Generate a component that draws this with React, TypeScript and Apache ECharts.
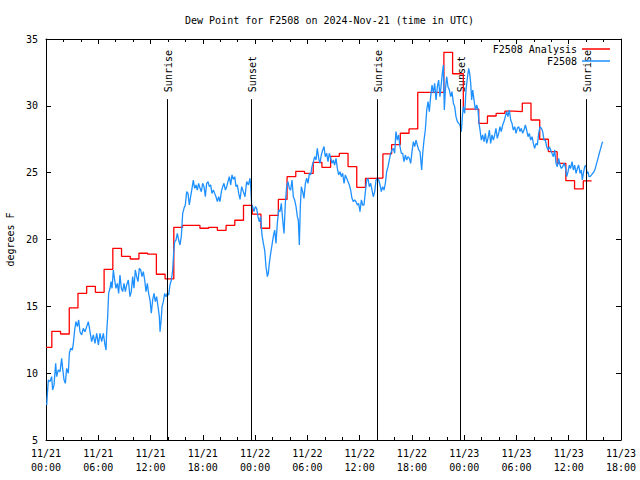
import React, { useEffect, useRef } from 'react';
import * as echarts from 'echarts';

const TITLE = 'Dew Point for F2508 on 2024-Nov-21 (time in UTC)';
const Y_NAME = 'degrees F';
const FONT = 'DejaVu Sans Mono';

// x axis in hours since 2024-11-21 00:00 UTC
const xTickLabels = [
  '11/21\n00:00', '11/21\n06:00', '11/21\n12:00', '11/21\n18:00',
  '11/22\n00:00', '11/22\n06:00', '11/22\n12:00', '11/22\n18:00',
  '11/23\n00:00', '11/23\n06:00', '11/23\n12:00', '11/23\n18:00',
];

const seriesNames = ['F2508 Analysis', 'F2508'];
const seriesColors = ['#ff0000', '#1e90ff'];

const analysisHours = [
  0.0, 0.67, 1.67, 2.67, 3.67, 4.67, 5.67, 6.67, 7.67, 8.67, 9.67, 10.67, 11.67,
  12.67, 13.67, 14.67, 15.67, 16.67, 17.67, 18.67, 19.67, 20.67, 21.67, 22.67,
  23.67, 24.67, 25.67, 26.67, 27.67, 28.67, 29.67, 30.67, 31.67, 32.67, 33.67,
  34.67, 35.67, 36.67, 37.67, 38.67, 39.67, 40.67, 41.67, 42.67, 43.67, 44.67,
  45.67, 46.67, 47.9, 48.67, 49.67, 50.67, 51.67, 52.67, 53.67, 54.67, 55.67,
  56.67, 57.67, 58.67, 59.67, 60.67, 61.67, 62.63,
];
const analysisDew = [
  11.93, 13.13, 12.93, 14.88, 15.97, 16.5, 16.05, 17.77, 19.34, 18.74, 18.54, 18.97, 18.9,
  17.4, 17.05, 20.91, 21.06, 21.06, 20.84, 20.91, 20.69, 21.06, 21.44, 22.56,
  21.9, 20.84, 21.81, 23.0, 24.7, 25.1, 24.95, 25.77, 25.4, 26.22, 26.45,
  25.45, 23.9, 24.58, 24.6, 26.4, 27.1, 27.95, 28.27, 31.0, 31.0, 31.0,
  34.0, 32.4, 29.76, 29.76, 28.69, 29.24, 29.44, 29.6, 29.57, 30.2, 28.94,
  27.5, 26.57, 25.7, 24.4, 23.78, 24.38, 24.38,
];

const obsHours = [
  0.08, 0.16, 0.27, 0.46, 0.65, 0.76, 0.92, 1.11, 1.22, 1.41, 1.61, 1.8, 1.91, 2.07, 2.22, 2.37,
  2.56, 2.68, 2.83, 3.02, 3.14, 3.29, 3.44, 3.6, 3.75, 3.9, 4.09, 4.28, 4.48, 4.67, 4.86, 5.05,
  5.24, 5.43, 5.62, 5.82, 6.01, 6.2, 6.39, 6.58, 6.77, 6.89, 6.96, 7.08, 7.19, 7.35, 7.46, 7.58,
  7.73, 7.88, 8.03, 8.19, 8.34, 8.49, 8.65, 8.8, 8.95, 9.11, 9.26, 9.45, 9.64, 9.79, 9.95, 10.1,
  10.25, 10.41, 10.56, 10.71, 10.87, 11.02, 11.17, 11.33, 11.48, 11.63, 11.78, 11.94, 12.09, 12.24,
  12.4, 12.55, 12.7, 12.86, 13.01, 13.09, 13.2, 13.32, 13.47, 13.62, 13.77, 13.93, 14.08, 14.23,
  14.39, 14.54, 14.65, 14.77, 14.92, 15.07, 15.23, 15.38, 15.53, 15.69, 15.84, 15.99, 16.15, 16.3,
  16.45, 16.6, 16.76, 16.91, 17.06, 17.22, 17.37, 17.52, 17.68, 17.83, 17.98, 18.14, 18.29, 18.44,
  18.6, 18.75, 18.9, 19.05, 19.21, 19.36, 19.51, 19.67, 19.82, 19.97, 20.13, 20.28, 20.43, 20.59,
  20.74, 20.89, 21.04, 21.2, 21.35, 21.5, 21.66, 21.81, 21.96, 22.12, 22.27, 22.46, 22.65, 22.84,
  23.03, 23.23, 23.42, 23.53, 23.61, 23.72, 23.87, 24.03, 24.18, 24.33, 24.49, 24.64, 24.79, 24.95,
  25.1, 25.25, 25.41, 25.52, 25.63, 25.79, 25.94, 26.09, 26.25, 26.4, 26.55, 26.71, 26.86, 27.01,
  27.17, 27.32, 27.47, 27.62, 27.78, 27.93, 28.08, 28.24, 28.39, 28.54, 28.7, 28.85, 28.96, 29.08,
  29.19, 29.31, 29.46, 29.61, 29.77, 29.92, 30.07, 30.23, 30.38, 30.53, 30.69, 30.84, 30.99, 31.14,
  31.3, 31.45, 31.6, 31.76, 31.91, 32.06, 32.22, 32.37, 32.52, 32.68, 32.83, 32.98, 33.13, 33.29,
  33.44, 33.59, 33.75, 33.9, 34.05, 34.21, 34.36, 34.51, 34.66, 34.82, 34.97, 35.12, 35.28, 35.43,
  35.58, 35.74, 35.89, 36.04, 36.2, 36.35, 36.5, 36.66, 36.81, 36.96, 37.11, 37.27, 37.42, 37.57,
  37.73, 37.88, 38.03, 38.19, 38.34, 38.49, 38.64, 38.8, 38.95, 39.1, 39.26, 39.41, 39.56, 39.72,
  39.87, 40.02, 40.17, 40.33, 40.48, 40.63, 40.79, 40.94, 41.09, 41.25, 41.4, 41.55, 41.71, 41.86,
  42.01, 42.17, 42.32, 42.47, 42.62, 42.78, 42.93, 43.12, 43.24, 43.39, 43.54, 43.7, 43.85, 44.0,
  44.15, 44.31, 44.46, 44.61, 44.77, 44.92, 45.07, 45.22, 45.38, 45.49, 45.61, 45.72, 45.84, 45.99,
  46.14, 46.3, 46.45, 46.6, 46.76, 46.91, 47.06, 47.22, 47.37, 47.52, 47.67, 47.79, 47.9, 48.06,
  48.21, 48.36, 48.52, 48.63, 48.75, 48.86, 48.98, 49.13, 49.28, 49.44, 49.59, 49.7, 49.82, 49.97,
  50.12, 50.28, 50.43, 50.58, 50.73, 50.89, 51.04, 51.19, 51.35, 51.5, 51.65, 51.8, 51.96, 52.11,
  52.26, 52.42, 52.57, 52.72, 52.88, 53.03, 53.18, 53.34, 53.49, 53.64, 53.8, 53.95, 54.1, 54.26,
  54.41, 54.56, 54.71, 54.87, 55.02, 55.17, 55.33, 55.48, 55.63, 55.79, 55.94, 56.09, 56.25, 56.4,
  56.55, 56.71, 56.86, 57.01, 57.16, 57.32, 57.47, 57.62, 57.78, 57.93, 58.08, 58.24, 58.39, 58.54,
  58.69, 58.85, 59.0, 59.15, 59.31, 59.46, 59.61, 59.77, 59.92, 60.07, 60.22, 60.38, 60.53, 60.68,
  60.84, 60.99, 61.14, 61.3, 61.45, 61.56, 61.68, 61.83, 61.98, 62.1, 62.21, 62.33, 62.44, 62.6,
  62.75, 62.9, 63.05, 63.2, 63.36, 63.51, 63.67, 63.82, 63.9,
];
const obsDew = [
  7.62, 8.49, 9.49, 9.37, 9.74, 8.74, 9.11, 10.74, 9.74, 10.24, 10.11, 11.11, 10.36, 9.49, 9.24, 10.36,
  9.99, 11.49, 11.86, 11.73, 12.23, 13.23, 13.85, 13.48, 13.98, 13.1, 12.86, 13.35, 13.1, 13.48, 13.85, 13.1,
  12.36, 12.86, 12.23, 12.98, 12.11, 12.98, 12.36, 12.98, 12.11, 11.73, 12.98, 14.23, 15.97, 16.35, 16.85, 16.35,
  17.72, 16.97, 16.35, 16.72, 15.97, 17.34, 16.35, 16.1, 16.72, 16.1, 16.6, 16.97, 15.72, 16.1, 17.22, 16.35,
  17.72, 17.22, 16.85, 17.84, 17.72, 17.22, 17.59, 16.97, 16.1, 16.72, 15.97, 15.47, 14.48, 15.47,
  15.97, 15.35, 15.72, 14.98, 14.23, 13.1, 13.85, 14.98, 15.35, 15.97, 15.72, 15.97, 15.85, 16.6,
  16.97, 17.72, 18.97, 19.84, 19.96, 20.46, 19.96, 19.59, 20.21, 21.96, 22.33, 22.58, 23.58, 23.45,
  22.58, 23.2, 23.83, 24.45, 23.83, 24.08, 23.7, 24.2, 23.83, 23.58, 24.2, 23.95, 23.2, 24.2,
  24.33, 23.95, 24.08, 23.45, 23.7, 23.45, 23.2, 22.83, 23.2, 22.83, 23.58, 23.95, 24.2, 23.7,
  23.95, 24.33, 24.7, 24.08, 24.83, 24.5, 24.7, 23.95, 24.08, 23.45, 23.0, 23.95, 23.58, 23.2,
  24.33, 24.08, 24.58, 23.58, 22.58, 22.46, 22.08, 22.46, 22.33, 21.71, 21.33, 21.71, 20.34, 19.71,
  19.21, 17.97, 17.22, 17.47, 18.22, 18.96, 19.59, 20.21, 20.71, 19.71, 21.21, 22.21, 22.08, 22.71,
  21.46, 20.46, 22.71, 23.95, 24.33, 23.83, 23.7, 24.45, 23.2, 22.96, 22.46, 21.71, 21.46, 19.59,
  22.46, 23.95, 23.58, 23.08, 24.2, 24.58, 24.2, 24.95, 24.83, 25.45, 25.82, 26.2, 25.95, 26.82,
  26.07, 25.7, 26.32, 26.7, 26.95, 26.2, 26.45, 25.82, 26.45, 26.07, 25.7, 25.95, 25.57, 26.07,
  25.32, 24.83, 25.07, 24.7, 24.95, 24.2, 24.83, 24.58, 24.33, 24.08, 23.7, 23.08, 22.83, 22.96,
  22.83, 22.58, 22.71, 22.08, 22.96, 22.58, 22.58, 23.58, 24.45, 24.58, 23.95, 24.2, 23.7, 23.2,
  23.58, 24.45, 24.58, 24.45, 24.08, 23.58, 23.95, 23.7, 24.2, 25.07, 25.45, 25.95, 26.45, 26.7,
  26.82, 26.45, 28.07, 27.44, 27.82, 26.95, 26.45, 26.45, 25.82, 26.32, 25.95, 26.2, 26.07, 25.7,
  26.57, 27.32, 26.95, 27.44, 27.07, 26.7, 26.57, 25.2, 26.45, 27.44, 28.19, 29.69, 30.31, 29.56,
  30.69, 31.56, 30.94, 31.68, 30.44, 31.43, 31.93, 30.69, 31.68, 32.43, 33.06, 29.69, 31.18, 32.18,
  31.43, 31.18, 30.69, 31.06, 30.19, 29.94, 29.19, 28.82, 28.69, 28.57, 28.07, 29.19, 29.94, 29.44,
  31.18, 32.06, 32.81, 32.43, 31.68, 30.44, 31.18, 30.44, 29.69, 30.06, 29.69, 28.69, 28.19, 27.44,
  27.82, 27.32, 27.94, 27.19, 27.57, 28.19, 27.19, 27.82, 27.44, 27.82, 28.32, 27.57, 27.94, 28.44,
  28.07, 28.57, 28.82, 29.19, 29.56, 29.19, 29.69, 28.94, 28.69, 28.19, 28.44, 27.94, 28.32, 28.44,
  28.07, 28.32, 27.94, 28.19, 28.57, 28.19, 27.69, 27.94, 27.44, 27.69, 27.19, 26.82, 27.19, 27.07,
  27.94, 28.44, 28.32, 28.07, 27.44, 27.44, 26.94, 26.7, 26.94, 26.7, 26.45, 26.2, 26.7, 25.7,
  25.45, 26.07, 25.57, 25.32, 25.45, 25.7, 25.45, 24.7, 25.07, 25.57, 25.32, 25.82, 25.2, 25.57,
  24.95, 25.32, 25.57, 24.95, 25.2, 24.45, 24.95, 25.45, 25.57, 24.95, 25.07, 24.7, 24.7, 24.82,
  24.95, 25.07, 25.32, 25.7, 26.07, 26.45, 26.82, 27.19, 27.32,
];

const sunEventNames = ['Sunrise', 'Sunset', 'Sunrise', 'Sunset', 'Sunrise'];
const sunEventHours = [13.89, 23.56, 38.03, 47.56, 62.02];
const SUN_LINE_BOTTOM = 5;
const SUN_LINE_TOP = 30.5;

const LEGEND_LINE_ICON = 'path://M0,0H28V1.5H0Z';

export default function App() {
  const ref = useRef<HTMLDivElement>(null);

  useEffect(() => {
    const chart = echarts.init(ref.current!, null, { renderer: 'svg' });
    const black = '#000000';
    const axisLine = { show: true, onZero: false, lineStyle: { color: black, width: 1 } };
    const axisTick = { show: true, inside: true, length: 5, lineStyle: { color: black, width: 1 } };
    const textBase = { fontFamily: FONT, fontSize: 10, color: black };

    const xBase = {
      type: 'value',
      min: 0,
      max: 66,
      interval: 6,
      axisLine,
      axisTick,
      minorTick: { show: true, splitNumber: 3, length: 3, lineStyle: { color: black, width: 1 } },
      splitLine: { show: false },
      minorSplitLine: { show: false },
    };
    const yBase = {
      type: 'value',
      min: 5,
      max: 35,
      interval: 5,
      axisLine,
      axisTick,
      splitLine: { show: false },
    };

    chart.setOption({
      animation: false,
      backgroundColor: '#ffffff',
      title: {
        text: TITLE,
        left: 185,
        top: 15,
        padding: 0,
        textStyle: { ...textBase, fontWeight: 'normal' },
      },
      legend: {
        data: seriesNames.map((n) => ({ name: n, icon: LEGEND_LINE_ICON })),
        orient: 'vertical',
        right: 30,
        top: 44,
        align: 'right',
        itemWidth: 28,
        itemHeight: 12,
        itemGap: 2,
        padding: 0,
        selectedMode: false,
        textStyle: textBase,
      },
      grid: {
        left: 46,
        right: 19,
        top: 39,
        bottom: 40,
        containLabel: false,
        outerBoundsMode: 'none',
      },
      xAxis: [
        {
          ...xBase,
          position: 'bottom',
          axisLabel: {
            ...textBase,
            margin: 6,
            lineHeight: 14,
            formatter: (v: number) => xTickLabels[Math.round(v / 6)] ?? '',
          },
        },
        { ...xBase, position: 'top', axisLabel: { show: false } },
      ],
      yAxis: [
        {
          ...yBase,
          position: 'left',
          name: Y_NAME,
          nameLocation: 'middle',
          nameGap: 31,
          nameRotate: 90,
          nameTextStyle: textBase,
          axisLabel: { ...textBase, margin: 8 },
        },
        { ...yBase, position: 'right', axisLabel: { show: false } },
      ],
      series: [
        {
          name: seriesNames[0],
          type: 'line',
          step: 'end',
          symbol: 'none',
          color: seriesColors[0],
          lineStyle: { color: seriesColors[0], width: 1.3 },
          data: analysisHours.map((h, i) => [h, analysisDew[i]]),
          markLine: {
            silent: true,
            symbol: ['none', 'none'],
            label: { show: false },
            lineStyle: { color: black, width: 1, type: 'solid' },
            emphasis: { disabled: true },
            data: sunEventHours.map((h) => [
              { coord: [h, SUN_LINE_BOTTOM] },
              { coord: [h, SUN_LINE_TOP] },
            ]),
          },
        },
        {
          name: seriesNames[1],
          type: 'line',
          symbol: 'none',
          color: seriesColors[1],
          lineStyle: { color: seriesColors[1], width: 1.3 },
          data: obsHours.map((h, i) => [h, obsDew[i]]),
        },
      ],
    });

    const graphics = sunEventHours.map((h, i) => {
      const p = chart.convertToPixel({ gridIndex: 0 }, [h, SUN_LINE_TOP]) as number[];
      return {
        type: 'text',
        x: p[0] + 1,
        y: p[1] - 7,
        rotation: Math.PI / 2,
        silent: true,
        style: {
          text: sunEventNames[i],
          font: `10px "${FONT}"`,
          fill: black,
          align: 'left',
          verticalAlign: 'middle',
          textAlign: 'left',
          textVerticalAlign: 'middle',
        },
      };
    });
    chart.setOption({ graphic: graphics });

    return () => chart.dispose();
  }, []);

  return (
    <div
      ref={ref}
      style={{ position: 'fixed', left: 0, top: 0, width: 640, height: 480 }}
    />
  );
}
